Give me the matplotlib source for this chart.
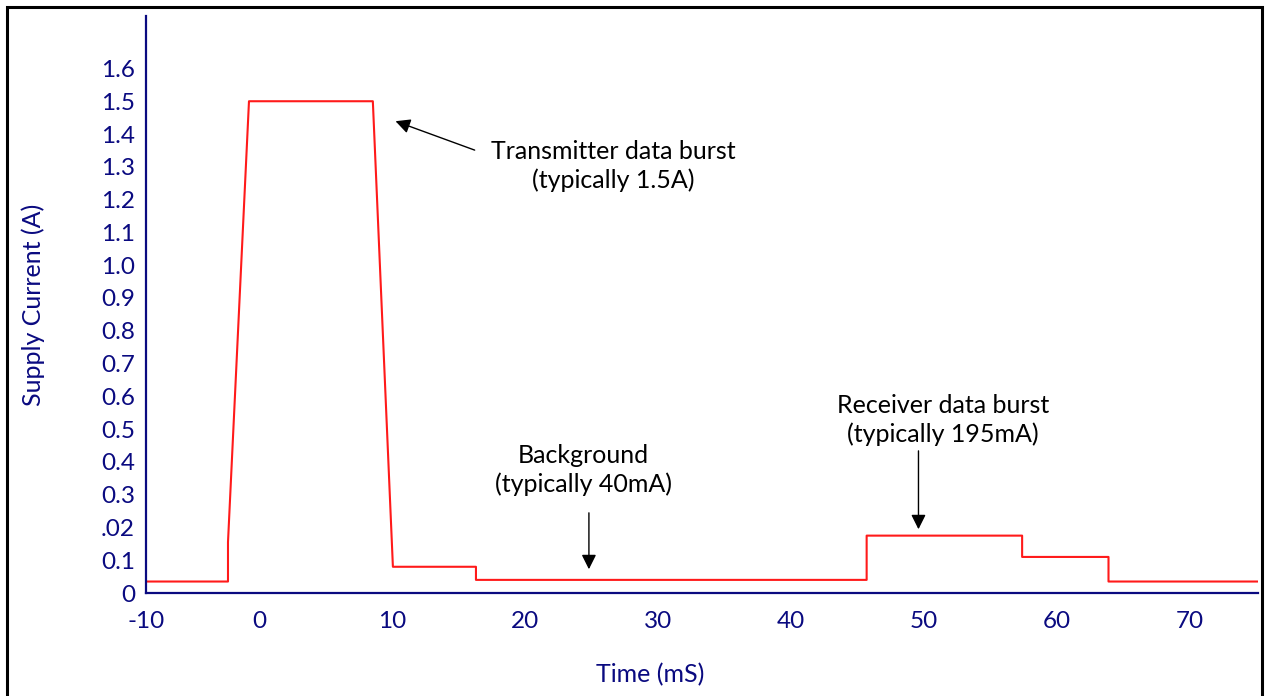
import matplotlib
matplotlib.use('Agg')
import matplotlib.pyplot as plt
from matplotlib.patches import Rectangle

plt.rcParams['font.family'] = ['Lato', 'DejaVu Sans']

# 전류 파형 (시간 mS, 전류 A)
time_ms = [-8.53, -2.36, -2.36, -0.78, 8.54, 10.05, 16.3, 16.3, 45.7, 45.7,
           57.4, 57.4, 63.9, 63.9, 75.15]
current_a = [0.035, 0.035, 0.155, 1.5, 1.5, 0.08, 0.08, 0.04, 0.04, 0.175,
             0.175, 0.11, 0.11, 0.035, 0.035]

x_ticks = [-8.53, 0, 10, 20, 30, 40, 50, 60, 70]
x_labels = ['-10', '0', '10', '20', '30', '40', '50', '60', '70']
y_ticks = [0, 0.1, 0.2, 0.3, 0.4, 0.5, 0.6, 0.7, 0.8, 0.9, 1.0, 1.1, 1.2, 1.3, 1.4, 1.5, 1.6]
y_labels = ['0', '0.1', '.02', '0.3', '0.4', '0.5', '0.6', '0.7', '0.8', '0.9',
            '1.0', '1.1', '1.2', '1.3', '1.4', '1.5', '1.6']

navy = '#0a0a80'

fig = plt.figure(figsize=(12.65, 6.96), dpi=100)
ax = fig.add_axes([146 / 1265, 1 - 593 / 696, 1112 / 1265, 577 / 696])

ax.plot(time_ms, current_a, color='#ff1a1a', lw=1.5)

ax.set_xlim(-8.53, 75.15)
ax.set_ylim(0, 1.76)
ax.set_xticks(x_ticks)
ax.set_xticklabels(x_labels)
ax.set_yticks(y_ticks)
ax.set_yticklabels(y_labels)
ax.tick_params(length=0, labelsize=17.5, labelcolor=navy)
ax.tick_params(axis='x', pad=13)
ax.tick_params(axis='y', pad=8)

for s in ['top', 'right']:
    ax.spines[s].set_visible(False)
for s in ['left', 'bottom']:
    ax.spines[s].set_color(navy)
    ax.spines[s].set_linewidth(1.6)

ax.set_ylabel('Supply Current (A)', fontsize=18, color=navy)
ax.yaxis.set_label_coords(-0.1016, 0.5)
ax.yaxis.label.set_va('center')
ax.set_xlabel('Time (mS)', fontsize=18, color=navy)
ax.xaxis.set_label_coords(0.453, -0.142)
ax.xaxis.label.set_va('center')

# 주석
arrow = dict(arrowstyle='-|>', color='black', lw=1, mutation_scale=22)
ax.annotate('', xy=(10.05, 1.442), xytext=(16.4, 1.348), arrowprops=arrow)
ax.text(26.6, 1.302, 'Transmitter data burst\n(typically 1.5A)', ha='center', va='center',
        fontsize=18, linespacing=1.3)
ax.annotate('', xy=(24.8, 0.064), xytext=(24.8, 0.253), arrowprops=arrow)
ax.text(24.4, 0.375, 'Background\n(typically 40mA)', ha='center', va='center',
        fontsize=18, linespacing=1.3)
ax.annotate('', xy=(49.6, 0.186), xytext=(49.6, 0.442), arrowprops=arrow)
ax.text(51.45, 0.527, 'Receiver data burst\n(typically 195mA)', ha='center', va='center',
        fontsize=18, linespacing=1.3)

# 바깥 테두리
fig.patches.append(Rectangle((7 / 1265, -0.05), 1255 / 1265, 1.05 - 7 / 696,
                             transform=fig.transFigure, fill=False, lw=2.2,
                             edgecolor='black'))

fig.savefig('out.png', dpi=100)
